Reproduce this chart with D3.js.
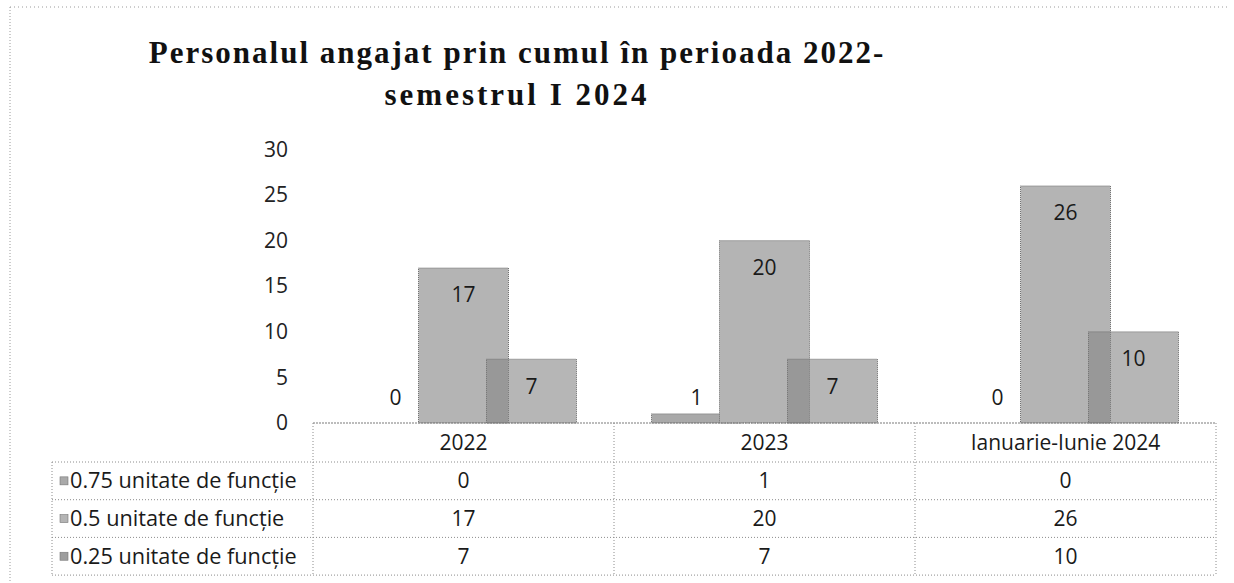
<!DOCTYPE html>
<html>
<head>
<meta charset="utf-8">
<script src="https://cdn.jsdelivr.net/npm/d3@7/dist/d3.min.js"></script>
<style>
  html, body { margin: 0; padding: 0; background: #ffffff; }
  svg { display: block; }
</style>
</head>
<body>
<svg id="chart" width="1234" height="583"></svg>
<script>
// ---- data ----
const categories = ["2022", "2023", "Ianuarie-Iunie 2024"];
const seriesNames = ["0.75 unitate de funcție", "0.5 unitate de funcție", "0.25 unitate de funcție"];
const values075 = [0, 1, 0];
const values05 = [17, 20, 26];
const values025 = [7, 7, 10];
const yTicks = [0, 5, 10, 15, 20, 25, 30];
const titleLines = ["Personalul angajat prin cumul în perioada 2022-", "semestrul I 2024"];

const seriesValues = [values075, values05, values025];
const seriesFill = ["#a9a9a9", "#b4b4b4", "#858585"];
const seriesOpacity = [1, 1, 0.6];

const svg = d3.select("#chart");
const W = 1234, H = 583;
const font = "'Open Sans', 'Noto Sans', sans-serif";
const fs = 21;

// layout
const plotLeft = 313, plotRight = 1216, baseY = 423, topY = 149.5;
const rowH = 37.7;
const tableLeft = 52;
const headerBottom = 462;

// outer chart frame (dotted, scanned look)
svg.append("line").attr("x1", 10).attr("x2", 1228).attr("y1", 7).attr("y2", 7)
  .attr("stroke", "#9a9a9a").attr("stroke-dasharray", "1,3");
svg.append("line").attr("x1", 10).attr("x2", 10).attr("y1", 7).attr("y2", H)
  .attr("stroke", "#9a9a9a").attr("stroke-dasharray", "1,2");

// title
const title = svg.append("text")
  .attr("text-anchor", "middle")
  .attr("font-family", "'Liberation Serif', 'Times New Roman', serif")
  .attr("font-weight", "bold")
  .attr("font-size", 31)
  .attr("fill", "#111");
title.selectAll("tspan").data(titleLines).join("tspan")
  .attr("x", 517)
  .attr("y", (d, i) => 63 + i * 42)
  .attr("letter-spacing", (d, i) => i === 1 ? 3 : 2)
  .text(d => d);

// scales
const x0 = d3.scaleBand().domain(categories).range([plotLeft, plotRight]).paddingInner(0).paddingOuter(0);
const barW = 90, barStep = 68;
const groupW = barW + barStep * (seriesNames.length - 1);
const x1 = d3.scalePoint().domain(seriesNames).range([0, groupW - barW]);
const groupOffset = (x0.bandwidth() - groupW) / 2;
const y = d3.scaleLinear().domain([0, 30]).range([baseY, topY]);

// y axis (labels only)
const yAxis = d3.axisLeft(y).tickValues(yTicks).tickSize(0).tickPadding(0);
const gy = svg.append("g").attr("transform", "translate(288,0)").call(yAxis);
gy.select(".domain").remove();
gy.selectAll("text").attr("font-family", font).attr("font-size", fs).attr("fill", "#222");

// bars
seriesNames.forEach((s, si) => {
  const g = svg.append("g");
  g.selectAll("rect").data(categories).join("rect")
    .attr("x", c => x0(c) + groupOffset + x1(s))
    .attr("width", barW)
    .attr("y", (c, ci) => y(seriesValues[si][ci]))
    .attr("height", (c, ci) => baseY - y(seriesValues[si][ci]))
    .attr("fill", seriesFill[si])
    .attr("fill-opacity", seriesOpacity[si])
    .attr("stroke", "#6f6f6f")
    .attr("stroke-width", 1)
    .attr("stroke-dasharray", "1,1");
});

// data labels
seriesNames.forEach((s, si) => {
  svg.append("g").selectAll("text").data(categories).join("text")
    .attr("x", c => x0(c) + groupOffset + x1(s) + barW / 2)
    .attr("y", (c, ci) => Math.min(y(seriesValues[si][ci]) + 27, baseY - 25))
    .attr("dy", "0.35em")
    .attr("text-anchor", "middle")
    .attr("font-family", font)
    .attr("font-size", fs)
    .attr("fill", "#1a1a1a")
    .text((c, ci) => seriesValues[si][ci]);
});

// data table
const lineStyle = sel => sel.attr("stroke", "#8c8c8c").attr("stroke-width", 1).attr("stroke-dasharray", "1,2");
const tbl = svg.append("g");
tbl.append("line").attr("x1", plotLeft).attr("x2", plotRight).attr("y1", baseY).attr("y2", baseY)
  .attr("stroke", "#7a7a7a").attr("stroke-width", 1.2).attr("stroke-dasharray", "2,1");
const rowLines = d3.range(seriesNames.length + 1).map(i => headerBottom + i * rowH);
tbl.selectAll("line.h").data(rowLines).join("line").attr("class", "h")
  .attr("x1", tableLeft).attr("x2", plotRight).attr("y1", d => d).attr("y2", d => d).call(lineStyle);
const colEdges = [plotLeft].concat(categories.map(c => x0(c) + x0.bandwidth()));
tbl.selectAll("line.v").data(colEdges).join("line").attr("class", "v")
  .attr("x1", d => d).attr("x2", d => d).attr("y1", baseY).attr("y2", rowLines[rowLines.length - 1]).call(lineStyle);
tbl.append("line").attr("x1", tableLeft).attr("x2", tableLeft)
  .attr("y1", headerBottom).attr("y2", rowLines[rowLines.length - 1]).call(lineStyle);

// header labels
tbl.selectAll("text.hdr").data(categories).join("text").attr("class", "hdr")
  .attr("x", c => x0(c) + x0.bandwidth() / 2)
  .attr("y", (baseY + headerBottom) / 2)
  .attr("dy", "0.35em")
  .attr("text-anchor", "middle")
  .attr("font-family", font).attr("font-size", fs).attr("fill", "#1a1a1a")
  .text(c => c);

// rows
seriesNames.forEach((s, si) => {
  const cy = headerBottom + si * rowH + rowH / 2;
  tbl.append("rect").attr("x", 60).attr("y", cy - 4).attr("width", 8).attr("height", 8)
    .attr("fill", si === 2 ? "#9d9d9d" : seriesFill[si]).attr("stroke", "#777").attr("stroke-width", 0.6);
  tbl.append("text").attr("x", 70).attr("y", cy).attr("dy", "0.35em")
    .attr("font-family", font).attr("font-size", 21.7).attr("fill", "#1a1a1a").text(s);
  tbl.selectAll(null).data(categories).join("text")
    .attr("x", c => x0(c) + x0.bandwidth() / 2)
    .attr("y", cy).attr("dy", "0.35em")
    .attr("text-anchor", "middle")
    .attr("font-family", font).attr("font-size", fs).attr("fill", "#1a1a1a")
    .text((c, ci) => seriesValues[si][ci]);
});
</script>
</body>
</html>
